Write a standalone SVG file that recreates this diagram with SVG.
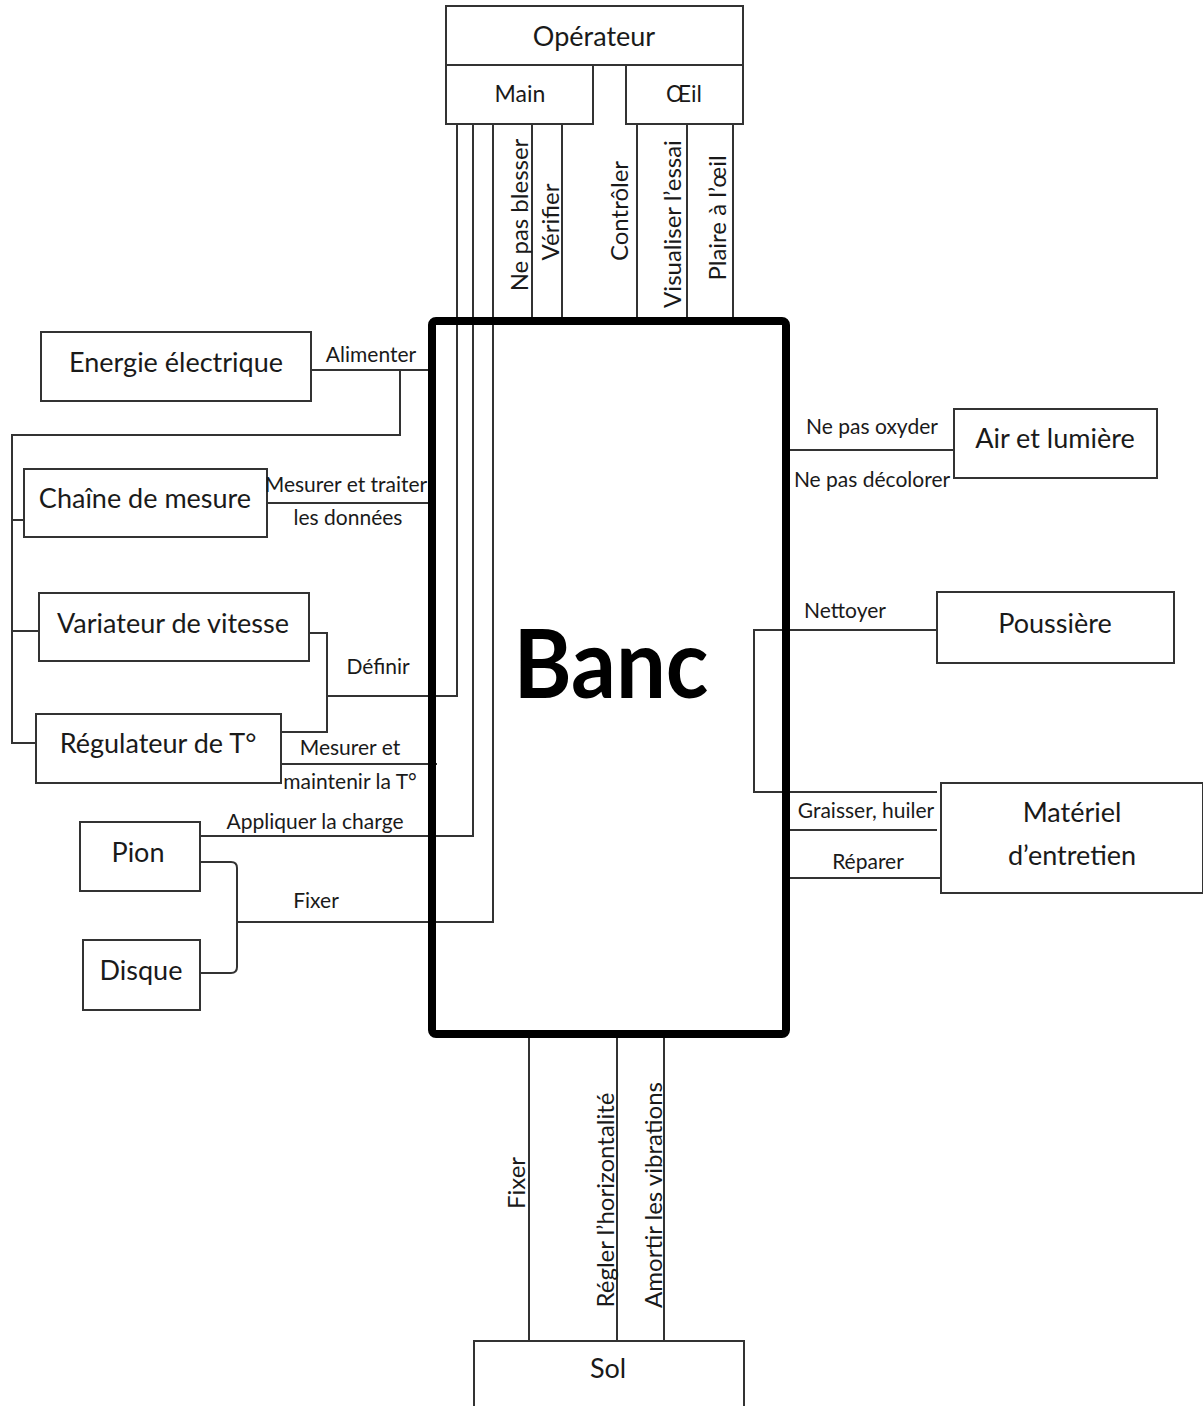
<svg xmlns="http://www.w3.org/2000/svg" width="1203" height="1406" viewBox="0 0 1203 1406">
  <style>
    .box { fill: #ffffff; stroke: #333333; stroke-width: 2; }
    .ln { fill: none; stroke: #333333; stroke-width: 2; }
    .lbl { font-family: Lato, "Liberation Sans", sans-serif; font-size: 27px; fill: #1a1a1a; text-anchor: middle; }
    .sm { font-family: Lato, "Liberation Sans", sans-serif; font-size: 21px; fill: #1a1a1a; text-anchor: middle; }
    .vt { font-family: Lato, "Liberation Sans", sans-serif; font-size: 24px; fill: #1a1a1a; text-anchor: middle; }
    .big { font-family: Lato, "Liberation Sans", sans-serif; font-size: 96px; font-weight: bold; fill: #000000; text-anchor: middle; }
  </style>
  <rect width="1203" height="1406" fill="#ffffff"/>

  <!-- connectors -->
  <g id="connectors">
    <!-- operator hand links -->
    <polyline class="ln" points="457,124 457,696 327,696"/>
    <polyline class="ln" points="473,124 473,836 200,836"/>
    <polyline class="ln" points="493,124 493,922 237,922"/>
    <line class="ln" x1="532" y1="124" x2="532" y2="321"/>
    <line class="ln" x1="562" y1="124" x2="562" y2="321"/>
    <!-- operator eye links -->
    <line class="ln" x1="637" y1="124" x2="637" y2="321"/>
    <line class="ln" x1="687" y1="124" x2="687" y2="321"/>
    <line class="ln" x1="733" y1="124" x2="733" y2="321"/>

    <!-- power supply and left bus -->
    <line class="ln" x1="311" y1="370" x2="432" y2="370"/>
    <polyline class="ln" points="400,370 400,435 12,435 12,743 36,743"/>
    <line class="ln" x1="12" y1="520" x2="24" y2="520"/>
    <line class="ln" x1="12" y1="631" x2="39" y2="631"/>
    <line class="ln" x1="267" y1="503" x2="432" y2="503"/>
    <polyline class="ln" points="309,633 327,633 327,732 281,732"/>
    <line class="ln" x1="281" y1="764" x2="437" y2="764"/>
    <path class="ln" d="M200,862 H231 Q237,862 237,868 V967 Q237,973 231,973 H200"/>

    <!-- right side -->
    <line class="ln" x1="786" y1="450" x2="954" y2="450"/>
    <polyline class="ln" points="937,630 754,630 754,792 937,792"/>
    <line class="ln" x1="786" y1="830" x2="937" y2="830"/>
    <line class="ln" x1="786" y1="878" x2="941" y2="878"/>

    <!-- ground links -->
    <line class="ln" x1="529" y1="1034" x2="529" y2="1341"/>
    <line class="ln" x1="617" y1="1034" x2="617" y2="1341"/>
    <line class="ln" x1="664" y1="1034" x2="664" y2="1341"/>
  </g>

  <!-- central block -->
  <g id="banc">
    <rect x="432" y="321" width="354" height="713" rx="4" fill="none" stroke="#000000" stroke-width="8"/>
    <text class="big" x="611" y="698" textLength="195" lengthAdjust="spacingAndGlyphs">Banc</text>
  </g>

  <g id="operateur">
    <rect class="box" x="446" y="6" width="297" height="59"/>
    <text class="lbl" x="594" y="46">Opérateur</text>
  </g>
  <g id="main">
    <rect class="box" x="446" y="65" width="147" height="59"/>
    <text class="lbl" x="520" y="102" style="font-size:23px">Main</text>
  </g>
  <g id="oeil">
    <rect class="box" x="626" y="65" width="117" height="59"/>
    <text class="lbl" x="684" y="102" style="font-size:23px">Œil</text>
  </g>

  <g id="energie">
    <rect class="box" x="41" y="332" width="270" height="69"/>
    <text class="lbl" x="176" y="372">Energie électrique</text>
  </g>
  <g id="chaine">
    <rect class="box" x="24" y="469" width="243" height="68"/>
    <text class="lbl" x="145" y="508">Chaîne de mesure</text>
  </g>
  <g id="variateur">
    <rect class="box" x="39" y="593" width="270" height="68"/>
    <text class="lbl" x="173" y="633">Variateur de vitesse</text>
  </g>
  <g id="regulateur">
    <rect class="box" x="36" y="714" width="245" height="69"/>
    <text class="lbl" x="158" y="753">Régulateur de T°</text>
  </g>
  <g id="pion">
    <rect class="box" x="80" y="822" width="120" height="69"/>
    <text class="lbl" x="138" y="862">Pion</text>
  </g>
  <g id="disque">
    <rect class="box" x="83" y="940" width="117" height="70"/>
    <text class="lbl" x="141" y="980">Disque</text>
  </g>

  <g id="air">
    <rect class="box" x="954" y="409" width="203" height="69"/>
    <text class="lbl" x="1055" y="448">Air et lumière</text>
  </g>
  <g id="poussiere">
    <rect class="box" x="937" y="592" width="237" height="71"/>
    <text class="lbl" x="1055" y="633">Poussière</text>
  </g>
  <g id="materiel">
    <rect class="box" x="941" y="783" width="262" height="110"/>
    <text class="lbl" x="1072" y="822">Matériel</text>
    <text class="lbl" x="1072" y="865">d’entretien</text>
  </g>

  <g id="sol">
    <rect class="box" x="474" y="1341" width="270" height="70"/>
    <text class="lbl" x="608" y="1378">Sol</text>
  </g>

  <!-- function labels -->
  <g id="labels">
    <text class="sm" x="371" y="362">Alimenter</text>
    <text class="sm" x="346" y="492">Mesurer et traiter</text>
    <text class="sm" x="348" y="525">les données</text>
    <text class="sm" x="378" y="674">Définir</text>
    <text class="sm" x="350" y="755">Mesurer et</text>
    <text class="sm" x="350" y="789">maintenir la T°</text>
    <text class="sm" x="315" y="829">Appliquer la charge</text>
    <text class="sm" x="316" y="908">Fixer</text>
    <text class="sm" x="872" y="434">Ne pas oxyder</text>
    <text class="sm" x="872" y="487">Ne pas décolorer</text>
    <text class="sm" x="845" y="618">Nettoyer</text>
    <text class="sm" x="866" y="818">Graisser, huiler</text>
    <text class="sm" x="868" y="869">Réparer</text>

    <text class="vt" transform="translate(520,215) rotate(-90)" y="8">Ne pas blesser</text>
    <text class="vt" transform="translate(551,222) rotate(-90)" y="8">Vérifier</text>
    <text class="vt" transform="translate(620,211) rotate(-90)" y="8">Contrôler</text>
    <text class="vt" transform="translate(673,224) rotate(-90)" y="8">Visualiser l’essai</text>
    <text class="vt" transform="translate(718,218) rotate(-90)" y="8">Plaire à l’œil</text>

    <text class="vt" transform="translate(517,1183) rotate(-90)" y="8">Fixer</text>
    <text class="vt" transform="translate(606,1200) rotate(-90)" y="8">Régler l’horizontalité</text>
    <text class="vt" transform="translate(654,1195) rotate(-90)" y="8">Amortir les vibrations</text>
  </g>
</svg>
